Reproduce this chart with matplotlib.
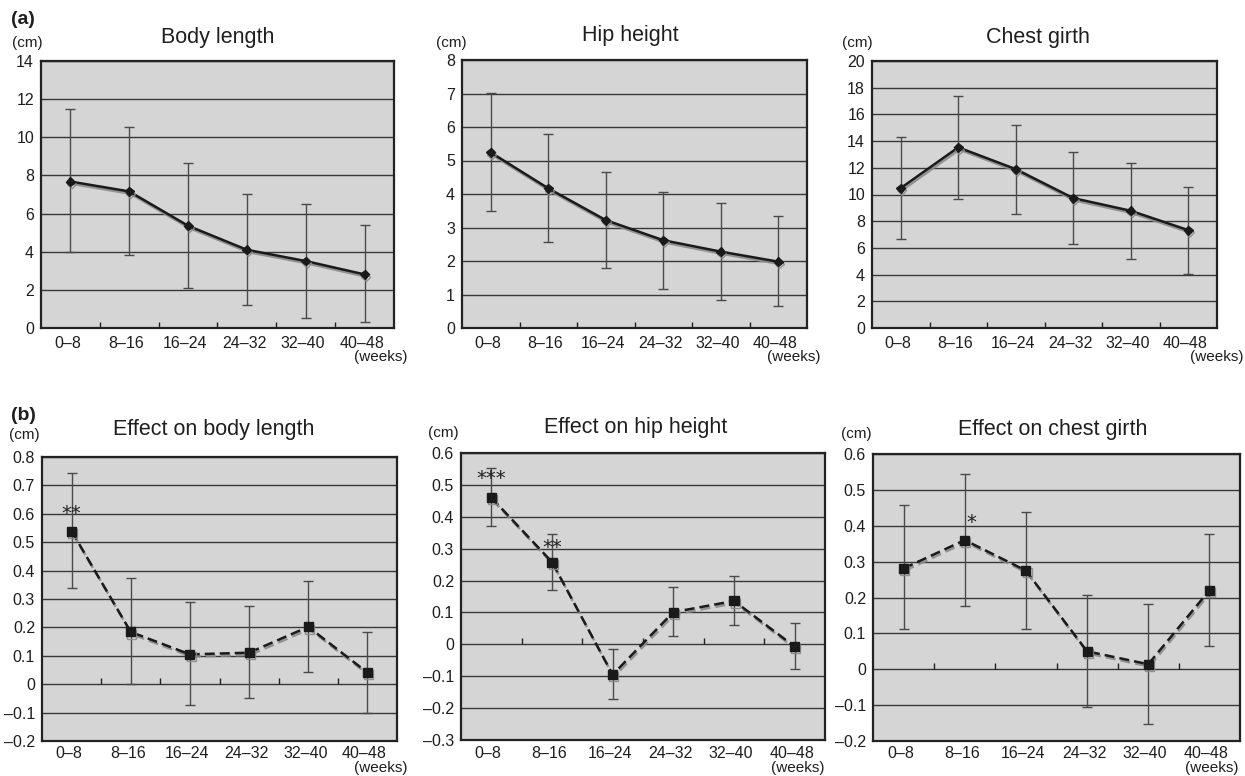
import matplotlib
matplotlib.use("Agg")
import matplotlib.pyplot as plt
import matplotlib.patheffects as pe
import matplotlib.transforms as mtransforms
import numpy as np

plt.rcParams['font.family'] = ['Liberation Sans', 'DejaVu Sans']

categories = ["0–8", "8–16", "16–24", "24–32", "32–40", "40–48"]

# (a) growth per period: mean, lower and upper end of the error bar
body_mean = [7.68, 7.16, 5.36, 4.10, 3.51, 2.81]
body_low = [3.96, 3.81, 2.09, 1.22, 0.52, 0.30]
body_high = [11.49, 10.56, 8.64, 7.05, 6.49, 5.38]

hip_mean = [5.24, 4.17, 3.22, 2.62, 2.28, 1.98]
hip_low = [3.49, 2.58, 1.78, 1.17, 0.83, 0.65]
hip_high = [7.01, 5.78, 4.67, 4.05, 3.73, 3.33]

chest_mean = [10.48, 13.53, 11.90, 9.73, 8.78, 7.33]
chest_low = [6.70, 9.63, 8.53, 6.30, 5.15, 4.05]
chest_high = [14.28, 17.40, 15.23, 13.15, 12.38, 10.58]

# (b) effects
eff_body_mean = [0.539, 0.184, 0.105, 0.111, 0.202, 0.041]
eff_body_low = [0.340, 0.000, -0.072, -0.047, 0.042, -0.101]
eff_body_high = [0.745, 0.374, 0.289, 0.275, 0.365, 0.185]

eff_hip_mean = [0.460, 0.258, -0.095, 0.101, 0.136, -0.007]
eff_hip_low = [0.371, 0.170, -0.172, 0.025, 0.062, -0.077]
eff_hip_high = [0.553, 0.345, -0.014, 0.179, 0.213, 0.067]

eff_chest_mean = [0.281, 0.360, 0.275, 0.050, 0.014, 0.220]
eff_chest_low = [0.112, 0.177, 0.113, -0.104, -0.152, 0.065]
eff_chest_high = [0.458, 0.545, 0.439, 0.207, 0.182, 0.377]

# significance marks: (category position, y value, text)
sig_body = [(0.0, 0.625, "**")]
sig_hip = [(0.0, 0.540, "***"), (1.0, 0.323, "**")]
sig_chest = [(1.1, 0.428, "*")]

W, H = 1245, 776
fig = plt.figure(figsize=(W / 100, H / 100), dpi=100)


def rect(l, t, r, b):
    return [l / W, 1 - b / H, (r - l) / W, (b - t) / H]


def fx(x):
    return x / W


def fy(y):
    return 1 - y / H


BG = "#d5d5d6"
GRID = "#383838"
TXT = "#1e1e1e"
TICK_FS = 11.5


def draw_panel(box, mean, low, high, ylim, ystep, yfmt, title, title_xy, cm_xy,
               weeks_xy, tick_y, dashed, sigs=()):
    ax = fig.add_axes(rect(*box))
    ax.set_facecolor(BG)
    x = np.arange(len(categories))
    mean = np.array(mean)
    err = [mean - np.array(low), np.array(high) - mean]
    ax.errorbar(x, mean, yerr=err, fmt='none', ecolor='#4a4a4a', elinewidth=1.0,
                capsize=3.5, capthick=1.0, zorder=3)
    shadow = [pe.SimpleLineShadow(offset=(0.8, -1.6), shadow_color='#8a8a8a', alpha=0.9),
              pe.Normal()]
    if dashed:
        ax.plot(x, mean, color='#1a1a1a', lw=1.8, ls=(0, (4, 2)), marker='s',
                markersize=6.5, markerfacecolor='#1a1a1a', markeredgecolor='#1a1a1a',
                path_effects=shadow, zorder=4)
    else:
        ax.plot(x, mean, color='#1a1a1a', lw=1.8, marker='D', markersize=4.5,
                markerfacecolor='#1a1a1a', markeredgecolor='#1a1a1a',
                path_effects=shadow, zorder=4)
    ax.set_xlim(-0.5, len(categories) - 0.5)
    ax.set_ylim(*ylim)
    yt = np.arange(ylim[0], ylim[1] + ystep / 2, ystep)
    ax.set_yticks(yt)
    ax.set_yticklabels([yfmt(v) for v in yt])
    ax.yaxis.grid(True, color=GRID, lw=1.0)
    ax.set_axisbelow(True)
    ax.set_xticks(x)
    ax.set_xticklabels([])
    ax.tick_params(axis='both', length=0, labelsize=TICK_FS, colors=TXT)
    ax.tick_params(axis='y', pad=5)
    for s in ax.spines.values():
        s.set_color('#222222')
        s.set_linewidth(1.6)
    # category tick labels at a fixed pixel row
    tr = mtransforms.blended_transform_factory(ax.transData, fig.transFigure)
    for i, lab in enumerate(categories):
        ax.text(i - 0.05, fy(tick_y), lab, transform=tr, ha='center',
                va='center', fontsize=TICK_FS, color=TXT, clip_on=False)
    bounds = np.arange(0.5, len(categories) - 0.5, 1.0)
    base = 0.0 if ylim[0] < 0 else ylim[0]
    ax.plot(bounds, [base] * len(bounds), ls='none', marker=2, markersize=4,
            color='#222222', mew=1.0, zorder=2, clip_on=False)
    star_off = mtransforms.ScaledTranslation(0, -0.118, fig.dpi_scale_trans)
    for xi, yv, s in sigs:
        ax.text(xi, yv, s, ha='center', va='baseline', fontsize=14, color=TXT, zorder=5,
                family='DejaVu Sans', transform=ax.transData + star_off)
    fig.text(fx(title_xy[0]), fy(title_xy[1]), title, ha='center', va='center',
             fontsize=15.5, color=TXT)
    fig.text(fx(cm_xy[0]), fy(cm_xy[1]), "(cm)", ha='center', va='center',
             fontsize=11, color=TXT)
    fig.text(fx(weeks_xy[0]), fy(weeks_xy[1]), "(weeks)", ha='left', va='center',
             fontsize=11, color=TXT)
    return ax


int_fmt = lambda v: f"{v:.0f}"


def dec_fmt(v):
    v = round(v, 1)
    if abs(v) < 1e-9:
        return "0"
    s = f"{abs(v):.1f}"
    return ("–" + s) if v < 0 else s


draw_panel((41, 61, 394, 328), body_mean, body_low, body_high, (0, 14), 2, int_fmt,
           "Body length", (218, 38), (27, 43), (354, 357), 343, False)
draw_panel((462, 60, 807, 328), hip_mean, hip_low, hip_high, (0, 8), 1, int_fmt,
           "Hip height", (630, 36), (451, 43), (767, 357), 343, False)
draw_panel((872, 61, 1217, 328), chest_mean, chest_low, chest_high, (0, 20), 2, int_fmt,
           "Chest girth", (1038, 37), (857, 43), (1190, 357), 343, False)

draw_panel((42, 457, 397, 741), eff_body_mean, eff_body_low, eff_body_high, (-0.2, 0.8), 0.1,
           dec_fmt, "Effect on body length", (214, 430), (24, 435), (354, 768), 753, True, sig_body)
draw_panel((461, 453, 825, 740), eff_hip_mean, eff_hip_low, eff_hip_high, (-0.3, 0.6), 0.1,
           dec_fmt, "Effect on hip height", (636, 427), (443, 433), (771, 768), 753, True, sig_hip)
draw_panel((873, 454, 1240, 741), eff_chest_mean, eff_chest_low, eff_chest_high, (-0.2, 0.6), 0.1,
           dec_fmt, "Effect on chest girth", (1053, 429), (856, 434), (1185, 768), 753, True, sig_chest)

fig.text(fx(11), fy(20), "(a)", ha='left', va='center', fontsize=14, fontweight='bold', color=TXT)
fig.text(fx(11), fy(415), "(b)", ha='left', va='center', fontsize=14, fontweight='bold', color=TXT)

fig.savefig("out.png", dpi=100, facecolor='white')
